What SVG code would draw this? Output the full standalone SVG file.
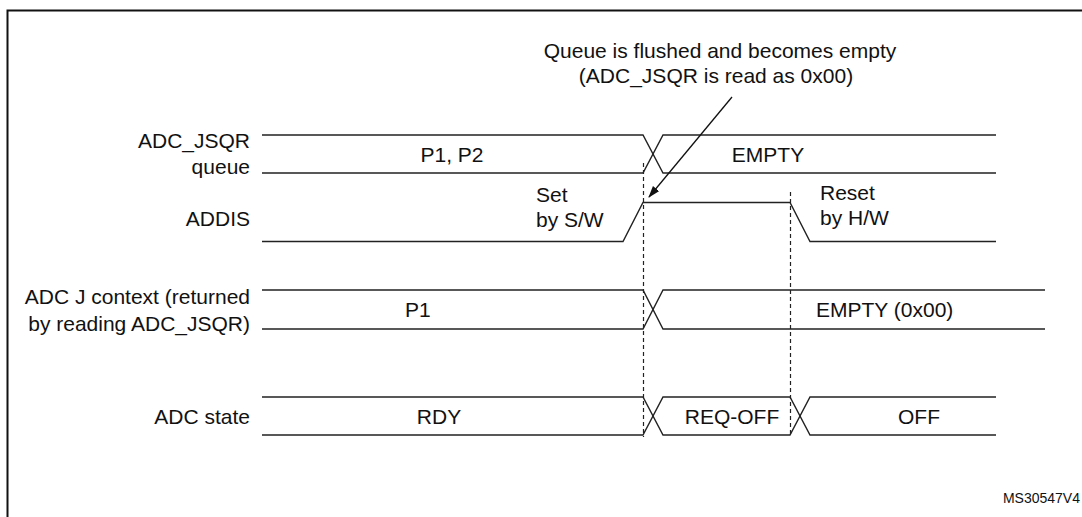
<svg xmlns="http://www.w3.org/2000/svg" width="1082" height="517" viewBox="0 0 1082 517">
<style>
text{font-family:"Liberation Sans",Arial,sans-serif;font-size:21px;fill:#111}
.r{text-anchor:end}
.m{text-anchor:middle}
.sig{fill:none;stroke:#222;stroke-width:1.4;stroke-linejoin:miter}
.dash{fill:none;stroke:#222;stroke-width:1.2;stroke-dasharray:4 3}
</style>
<defs>
<marker id="ah" markerWidth="12" markerHeight="10" refX="11" refY="4" orient="auto" markerUnits="userSpaceOnUse">
<path d="M0,0 L12,4 L0,8 Z" fill="#111"/>
</marker>
</defs>
<rect width="1082" height="517" fill="#fff"/>
<rect x="7.5" y="10.5" width="1100" height="530" fill="none" stroke="#111" stroke-width="2"/>

<g id="labels">
<text class="r" x="250" y="148">ADC_JSQR</text>
<text class="r" x="250" y="174">queue</text>
<text class="r" x="250" y="226">ADDIS</text>
<text class="r" x="250" y="304">ADC J context (returned</text>
<text class="r" x="250" y="331">by reading ADC_JSQR)</text>
<text class="r" x="250" y="424">ADC state</text>
</g>

<g id="connectors">
<g id="row-jsqr">
<path class="sig" d="M262,135 H643 L663,173 H996"/>
<path class="sig" d="M262,173 H643 L663,135 H996"/>
</g>
<g id="row-addis">
<path class="sig" d="M262,241.5 H623 L643,202.5 H790 L810,241.5 H996"/>
</g>
<g id="row-context">
<path class="sig" d="M262,290 H643 L663,329 H1045"/>
<path class="sig" d="M262,329 H643 L663,290 H1045"/>
</g>
<g id="row-state">
<path class="sig" d="M262,397 H643 L663,435 H790 L810,397 H996"/>
<path class="sig" d="M262,435 H643 L663,397 H790 L810,435 H996"/>
</g>
<line class="dash" x1="643.5" y1="163" x2="643.5" y2="437"/>
<line class="dash" x1="790.5" y1="192" x2="790.5" y2="437"/>
<line x1="732" y1="97" x2="649" y2="197" stroke="#111" stroke-width="1.3" marker-end="url(#ah)"/>
</g>

<g id="values">
<text class="m" x="452" y="162">P1, P2</text>
<text class="m" x="768" y="162">EMPTY</text>
<text x="536" y="202">Set</text>
<text x="536" y="227">by S/W</text>
<text x="820" y="200">Reset</text>
<text x="820" y="225">by H/W</text>
<text x="405" y="317">P1</text>
<text x="816" y="317">EMPTY (0x00)</text>
<text class="m" x="439" y="424">RDY</text>
<text class="m" x="732" y="424">REQ-OFF</text>
<text class="m" x="919" y="424">OFF</text>
</g>

<g id="note">
<text class="m" x="720" y="58">Queue is flushed and becomes empty</text>
<text class="m" x="716" y="83">(ADC_JSQR is read as 0x00)</text>
</g>

<text class="r" x="1080" y="503" style="font-size:14px">MS30547V4</text>
</svg>
